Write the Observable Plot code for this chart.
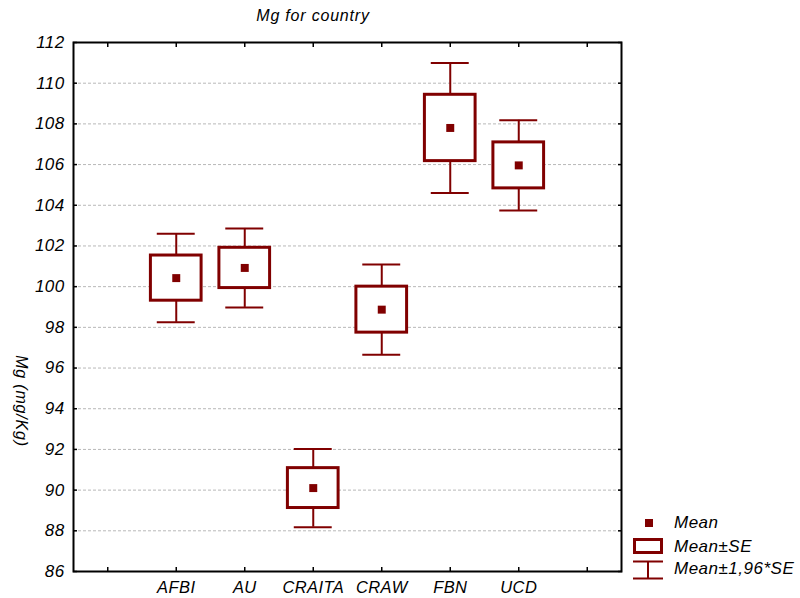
<!DOCTYPE html>
<html><head><meta charset="utf-8">
<script src="https://cdn.jsdelivr.net/npm/d3@7"></script>
<script src="https://cdn.jsdelivr.net/npm/@observablehq/plot@0.6"></script>
<style>
body{margin:0;background:#fff;}
#wrap{position:relative;width:800px;height:598px;font-family:"Liberation Sans",Arial,sans-serif;font-style:italic;color:#000;}
#title{position:absolute;left:313px;top:7px;transform:translateX(-50%);font-size:16px;letter-spacing:0.8px;white-space:nowrap;}
#ylab{position:absolute;left:21px;top:401px;transform:translate(-50%,-50%) rotate(90deg);font-size:16px;letter-spacing:0.8px;white-space:nowrap;}
#legend{position:absolute;left:0;top:0;}
</style></head><body><div id="wrap"><div id="title">Mg for country</div><div id="ylab">Mg (mg/Kg)</div></div>
<script>
const countries = ["AFBI","AU","CRAITA","CRAW","FBN","UCD"];
const means = [100.42, 100.92, 90.10, 98.87, 107.80, 105.96];
const se = [1.11, 0.99, 0.98, 1.13, 1.63, 1.13];
const yTicks = [86,88,90,92,94,96,98,100,102,104,106,108,110,112];
const gridVals = [88,90,92,94,96,98,100,102,104,106,108,110];
const xTickPos = [0.5,1.5,2.5,3.5,4.5,5.5,6.5,7.5];
const xTickLabels = ["","AFBI","AU","CRAITA","CRAW","FBN","UCD",""];
const red = "#800000";

const rows = countries.map((c,i)=>({
  c, x: i+1.5, m: means[i],
  lo: means[i]-se[i], hi: means[i]+se[i],
  lo2: means[i]-1.96*se[i], hi2: means[i]+1.96*se[i]
}));
const boxHalf = 0.37, capHalf = 0.277;

const chart = Plot.plot({
  width: 800, height: 598,
  marginLeft: 73, marginRight: 179, marginTop: 42, marginBottom: 27,
  style: {fontFamily: '"Liberation Sans", Arial, sans-serif', fontStyle: "italic", fontSize: "17px", letterSpacing: "0.4px", color: "#000", background: "transparent"},
  x: {type: "linear", domain: [0, 8], axis: null},
  y: {domain: [86, 112], axis: null},
  marks: [
    Plot.ruleY(gridVals, {stroke: "#b8b8b8", strokeDasharray: "3,2", strokeWidth: 1}),
    Plot.ruleX(rows, {x: "x", y1: "hi", y2: "hi2", stroke: red, strokeWidth: 2}),
    Plot.ruleX(rows, {x: "x", y1: "lo2", y2: "lo", stroke: red, strokeWidth: 2}),
    Plot.ruleY(rows, {y: "hi2", x1: d=>d.x-capHalf, x2: d=>d.x+capHalf, stroke: red, strokeWidth: 2}),
    Plot.ruleY(rows, {y: "lo2", x1: d=>d.x-capHalf, x2: d=>d.x+capHalf, stroke: red, strokeWidth: 2}),
    Plot.rect(rows, {x1: d=>d.x-boxHalf, x2: d=>d.x+boxHalf, y1: "lo", y2: "hi", fill: "white", stroke: red, strokeWidth: 3}),
    Plot.dot(rows, {x: "x", y: "m", symbol: "square", r: 4.5, fill: red, stroke: null}),
    Plot.axisY(yTicks, {anchor: "left", tickSize: -4, tickPadding: 13, label: null, strokeWidth: 1.5}),
    Plot.axisY(yTicks, {anchor: "right", tickSize: -4, tickFormat: () => "", label: null, strokeWidth: 1.5}),
    Plot.axisX(xTickPos, {anchor: "bottom", tickSize: -4, tickPadding: 14, fontSize: 16.5, tickFormat: d => xTickLabels[Math.round(d - 0.5)], label: null, strokeWidth: 1.5}),
    Plot.axisX(xTickPos, {anchor: "top", tickSize: -4, tickFormat: () => "", label: null, strokeWidth: 1.5}),
    Plot.frame({stroke: "#000", strokeWidth: 2})
  ]
});
chart.style.position = "absolute";
chart.style.left = "0px";
chart.style.top = "0px";
const wrap = document.getElementById("wrap");
wrap.insertBefore(chart, wrap.firstChild);

// legend
const legendItems = ["Mean", "Mean\u00b1SE", "Mean\u00b11,96*SE"];
const ns = "http://www.w3.org/2000/svg";
const lg = document.createElementNS(ns, "svg");
lg.setAttribute("id", "legend");
lg.setAttribute("width", 800); lg.setAttribute("height", 598);
lg.innerHTML = `
  <rect x="645" y="519" width="8" height="8" fill="${red}"/>
  <rect x="634.5" y="539.5" width="27" height="13" fill="white" stroke="${red}" stroke-width="3"/>
  <line x1="633" x2="663" y1="561.5" y2="561.5" stroke="${red}" stroke-width="2"/>
  <line x1="633" x2="663" y1="578.5" y2="578.5" stroke="${red}" stroke-width="2"/>
  <line x1="648" x2="648" y1="561.5" y2="578.5" stroke="${red}" stroke-width="2"/>
  <g font-family='"Liberation Sans", Arial, sans-serif' font-style="italic" font-size="17" letter-spacing="0.5">
    <text x="674" y="528">${legendItems[0]}</text>
    <text x="674" y="552">${legendItems[1]}</text>
    <text x="674" y="574">${legendItems[2]}</text>
  </g>`;
wrap.appendChild(lg);
</script></body></html>
